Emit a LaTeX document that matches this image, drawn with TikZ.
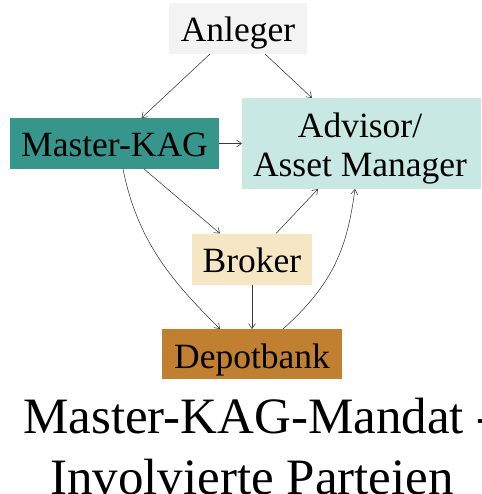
\documentclass[tikz,border=0pt]{standalone}
\usepackage{fontspec}
\setmainfont{Liberation Serif}
\usetikzlibrary{arrows.meta}
\definecolor{cAnl}{HTML}{F3F3F3}
\definecolor{cMk}{HTML}{36968B}
\definecolor{cAdv}{HTML}{C8E9E3}
\definecolor{cBr}{HTML}{F5E7C4}
\definecolor{cDep}{HTML}{C0802F}
\definecolor{cLine}{HTML}{3A3A3A}
\tikzset{
  box/.style={draw=none, inner sep=0pt, outer sep=0pt, font=\fontsize{35.5}{39}\selectfont},
  conn/.style={draw=cLine, line width=0.55pt, -{Straight Barb[length=5pt,width=7pt]}},
  ttl/.style={inner sep=0pt, font=\fontsize{51}{61}\selectfont}
}
\begin{document}
\begin{tikzpicture}[x=1pt,y=-1pt]
\clip (0,0) rectangle (481,494);
\fill[white] (0,0) rectangle (481,494);
\node[box, fill=cAnl, minimum width=138pt, minimum height=51pt, text height=27pt, text depth=0pt] (an) at (238,28.5) {Anleger};
\node[box, fill=cMk, minimum width=209pt, minimum height=51pt, text height=27pt, text depth=0pt] (mk) at (114.5,143.5) {Master-KAG};
\node[box, fill=cAdv, minimum width=239pt, minimum height=91pt] (adv) at (361.5,143.5) {};
\node[box, align=center, anchor=center] (advt) at (360,149) {Advisor/\\Asset Manager};
\node[box, fill=cBr, minimum width=120pt, minimum height=51pt, text height=26pt, text depth=0pt] (br) at (252,259) {Broker};
\node[box, fill=cDep, minimum width=180pt, minimum height=50pt, text height=28pt, text depth=0pt] (dep) at (252,354) {Depotbank};
\node[ttl, anchor=base west] (t1) at (23,433) {Master-KAG-Mandat -};
\node[ttl, anchor=base] (t2) at (252,494) {Involvierte Parteien};
\draw[conn] ([xshift=41pt]an.south west) -- ([xshift=131.5pt]mk.north west);
\draw[conn] ([xshift=96pt]an.south west) -- ([xshift=70pt]adv.north west);
\draw[conn] (mk.east) -- (mk.east -| adv.west);
\draw[conn] ([xshift=134pt]mk.south west) -- ([xshift=28pt]br.north west);
\draw[conn] ([xshift=84pt]br.north west) -- ([xshift=76pt]adv.south west);
\draw[conn] (br.south) -- (dep.north);
\draw[conn] ([xshift=113pt]mk.south west) .. controls +(15,75) and +(-45,-45) .. ([xshift=58pt]dep.north west);
\draw[conn] ([xshift=121pt]dep.north west) .. controls +(50,-45) and +(-8,60) .. ([xshift=113pt]adv.south west);
\end{tikzpicture}
\end{document}
